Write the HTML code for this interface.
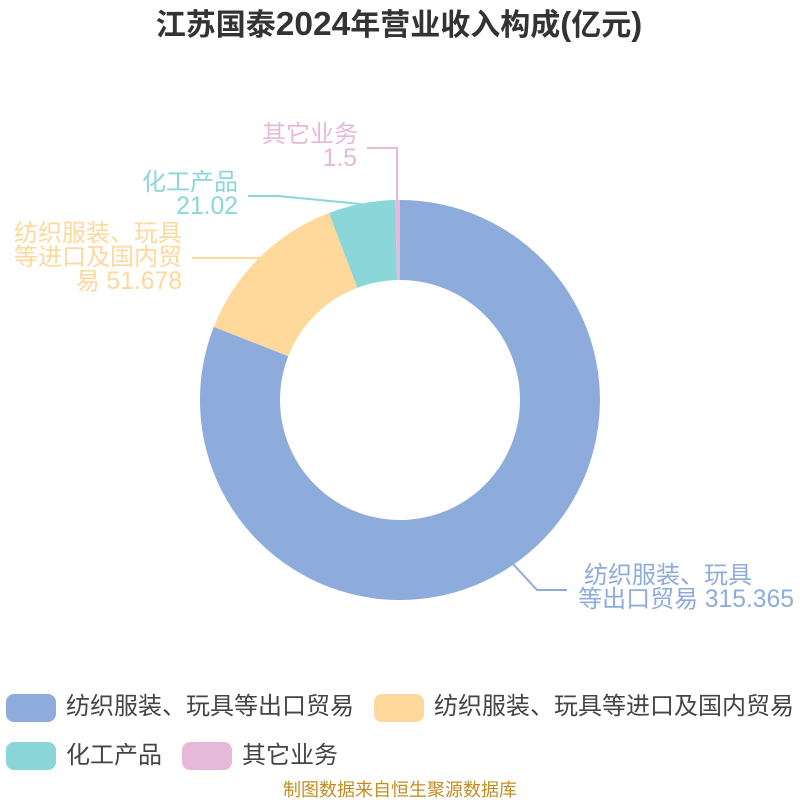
<!DOCTYPE html>
<html lang="zh">
<head>
<meta charset="utf-8">
<style>
html,body{margin:0;padding:0;background:#fff;width:800px;height:800px;overflow:hidden}
svg{display:block}
text{font-family:"Liberation Sans","Noto Sans CJK SC",sans-serif}
</style>
</head>
<body>
<svg width="800" height="800" viewBox="0 0 800 800" xmlns="http://www.w3.org/2000/svg">
<rect width="800" height="800" fill="#fff"/>
<text x="399" y="35" text-anchor="middle" font-size="30" font-weight="bold" fill="#333">江苏国泰<tspan font-size="33.5">2024</tspan>年营业收入构成<tspan font-size="33">(</tspan>亿元<tspan font-size="33">)</tspan></text>

<path d="M400 200A200 200 0 1 1 213.8 326.9L288.3 356.15A120 120 0 1 0 400 280Z" fill="#8eacdb"/>
<path d="M213.8 326.9A200 200 0 0 1 328.9 213.05L357.4 287.8A120 120 0 0 0 288.3 356.15Z" fill="#ffd89c"/>
<path d="M328.9 213.05A200 200 0 0 1 395.16 200.06L397.1 280.03A120 120 0 0 0 357.4 287.8Z" fill="#8ad6d9"/>
<path d="M395.16 200.06A200 200 0 0 1 400 200L400 280A120 120 0 0 0 397.1 280.03Z" fill="#e7b9d9"/>

<polyline points="513,564 537,590 567,590" fill="none" stroke="#8eacdb" stroke-width="2"/>
<polyline points="361,204 278,196 248,196" fill="none" stroke="#8ad6d9" stroke-width="2"/>
<polyline points="260,258 222,258 192,258" fill="none" stroke="#ffd89c" stroke-width="2"/>
<polyline points="397,200 397,148 367,148" fill="none" stroke="#e7b9d9" stroke-width="2"/>

<g font-size="24" text-anchor="end">
<g fill="#e7b9d9"><text x="358" y="142">其它业务</text><text x="357" y="166" font-size="24.7">1.5</text></g>
<g fill="#8ad6d9"><text x="238" y="190">化工产品</text><text x="238" y="214" font-size="24.7">21.02</text></g>
<g fill="#ffd89c"><text x="182" y="241">纺织服装、玩具</text><text x="182" y="265">等进口及国内贸</text><text x="182" y="289">易 <tspan font-size="24.7">51.678</tspan></text></g>
</g>
<g font-size="24" fill="#8eacdb" text-anchor="end">
<text x="752" y="583">纺织服装、玩具</text>
<text x="794" y="607">等出口贸易 <tspan font-size="24.7">315.365</tspan></text>
</g>

<rect x="6" y="694" width="50" height="28" rx="8" fill="#8eacdb"/>
<rect x="374" y="694" width="50" height="28" rx="8" fill="#ffd89c"/>
<rect x="6" y="742" width="50" height="28" rx="8" fill="#8ad6d9"/>
<rect x="182" y="742" width="50" height="28" rx="8" fill="#e7b9d9"/>
<g font-size="24" fill="#444">
<text x="66" y="714">纺织服装、玩具等出口贸易</text>
<text x="434" y="714">纺织服装、玩具等进口及国内贸易</text>
<text x="66" y="763">化工产品</text>
<text x="242" y="763">其它业务</text>
</g>
<text x="400" y="796" text-anchor="middle" font-size="18" fill="#c48d23">制图数据来自恒生聚源数据库</text>
</svg>
</body>
</html>
